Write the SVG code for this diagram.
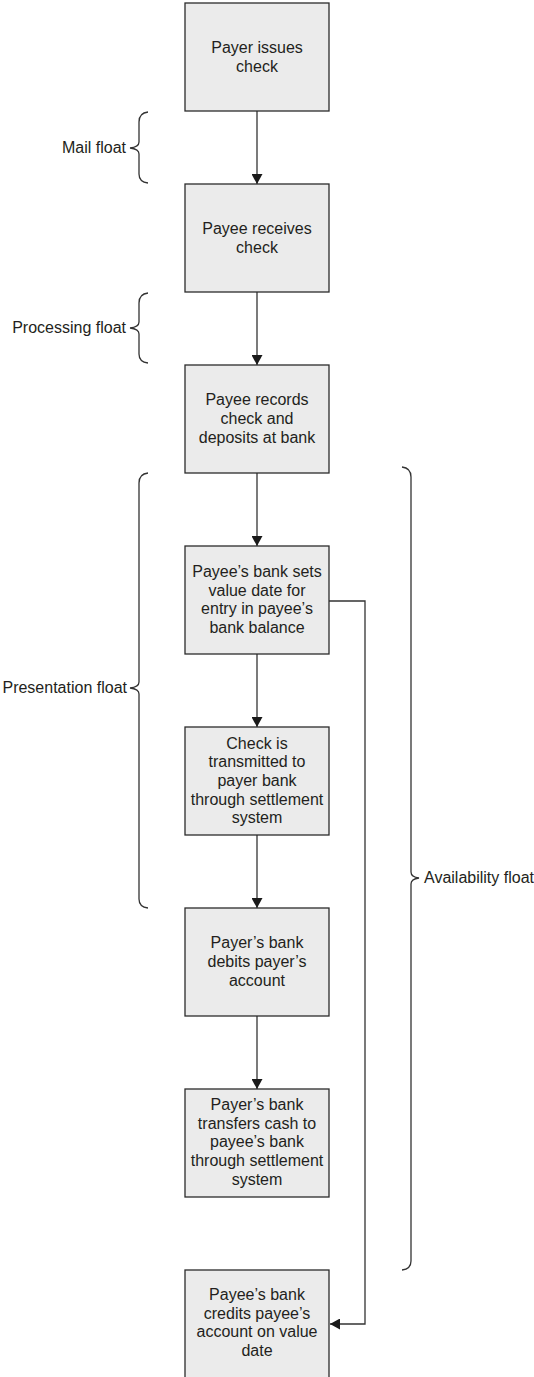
<svg xmlns="http://www.w3.org/2000/svg" width="534" height="1377" viewBox="0 0 534 1377">
<style>
.box{fill:#ebebeb;stroke:#2b2b2b;stroke-width:1.3}
.t{font-family:"Liberation Sans",Arial,sans-serif;font-size:16px;fill:#231f20;text-anchor:middle}
.lbl{font-family:"Liberation Sans",Arial,sans-serif;font-size:16px;fill:#231f20}
.conn{fill:none;stroke:#333;stroke-width:1.3}
.brace{fill:none;stroke:#333;stroke-width:1.3}
</style>
<defs>
<marker id="ah" markerUnits="userSpaceOnUse" markerWidth="11" markerHeight="11" refX="10" refY="5.5" orient="auto">
<path d="M0,0 L10,5.5 L0,11 z" fill="#1a1a1a"/>
</marker>
</defs>
<rect width="534" height="1377" fill="#ffffff"/>

<g id="connectors">
<line class="conn" x1="257" y1="111" x2="257" y2="184" marker-end="url(#ah)"/>
<line class="conn" x1="257" y1="292" x2="257" y2="365" marker-end="url(#ah)"/>
<line class="conn" x1="257" y1="473" x2="257" y2="546" marker-end="url(#ah)"/>
<line class="conn" x1="257" y1="654" x2="257" y2="727" marker-end="url(#ah)"/>
<line class="conn" x1="257" y1="835" x2="257" y2="908" marker-end="url(#ah)"/>
<line class="conn" x1="257" y1="1016" x2="257" y2="1089" marker-end="url(#ah)"/>
<polyline class="conn" points="329,601 365,601 365,1324 330,1324" marker-end="url(#ah)"/>
</g>

<g id="n1"><rect class="box" x="185" y="3" width="144" height="108"/>
<text class="t" x="257" y="53">Payer issues</text><text class="t" x="257" y="72">check</text></g>

<g id="n2"><rect class="box" x="185" y="184" width="144" height="108"/>
<text class="t" x="257" y="234">Payee receives</text><text class="t" x="257" y="253">check</text></g>

<g id="n3"><rect class="box" x="185" y="365" width="144" height="108"/>
<text class="t" x="257" y="405">Payee records</text><text class="t" x="257" y="424">check and</text><text class="t" x="257" y="443">deposits at bank</text></g>

<g id="n4"><rect class="box" x="185" y="546" width="144" height="108"/>
<text class="t" x="257" y="577">Payee’s bank sets</text><text class="t" x="257" y="595.7">value date for</text><text class="t" x="257" y="614.4">entry in payee’s</text><text class="t" x="257" y="633">bank balance</text></g>

<g id="n5"><rect class="box" x="185" y="727" width="144" height="108"/>
<text class="t" x="257" y="748.6">Check is</text><text class="t" x="257" y="767.3">transmitted to</text><text class="t" x="257" y="786">payer bank</text><text class="t" x="257" y="804.7">through settlement</text><text class="t" x="257" y="823.4">system</text></g>

<g id="n6"><rect class="box" x="185" y="908" width="144" height="108"/>
<text class="t" x="257" y="948">Payer’s bank</text><text class="t" x="257" y="967">debits payer’s</text><text class="t" x="257" y="986">account</text></g>

<g id="n7"><rect class="box" x="185" y="1089" width="144" height="108"/>
<text class="t" x="257" y="1110">Payer’s bank</text><text class="t" x="257" y="1128.7">transfers cash to</text><text class="t" x="257" y="1147.4">payee’s bank</text><text class="t" x="257" y="1166.1">through settlement</text><text class="t" x="257" y="1184.8">system</text></g>

<g id="n8"><rect class="box" x="185" y="1270" width="144" height="109"/>
<text class="t" x="257" y="1300">Payee’s bank</text><text class="t" x="257" y="1318.7">credits payee’s</text><text class="t" x="257" y="1337.4">account on value</text><text class="t" x="257" y="1356">date</text></g>

<g id="mail-float">
<path class="brace" d="M148,112 Q139,113 139,122 L139,142 Q139,147 130,148 Q139,149 139,154 L139,174 Q139,182 148,183"/>
<text class="lbl" x="126" y="153" text-anchor="end">Mail float</text>
</g>
<g id="processing-float">
<path class="brace" d="M148,293 Q139,294 139,303 L139,322 Q139,327 130,328 Q139,329 139,334 L139,354 Q139,362 148,363"/>
<text class="lbl" x="126" y="333" text-anchor="end">Processing float</text>
</g>
<g id="presentation-float">
<path class="brace" d="M148,473 Q139,474 139,483 L139,682 Q139,687 130,688 Q139,689 139,694 L139,899 Q139,907 148,908"/>
<text class="lbl" x="127" y="693" text-anchor="end">Presentation float</text>
</g>
<g id="availability-float">
<path class="brace" d="M402,467 Q411,468 411,477 L411,872 Q411,877 419,878 Q411,879 411,884 L411,1261 Q411,1269 402,1270"/>
<text class="lbl" x="424" y="883">Availability float</text>
</g>
</svg>
